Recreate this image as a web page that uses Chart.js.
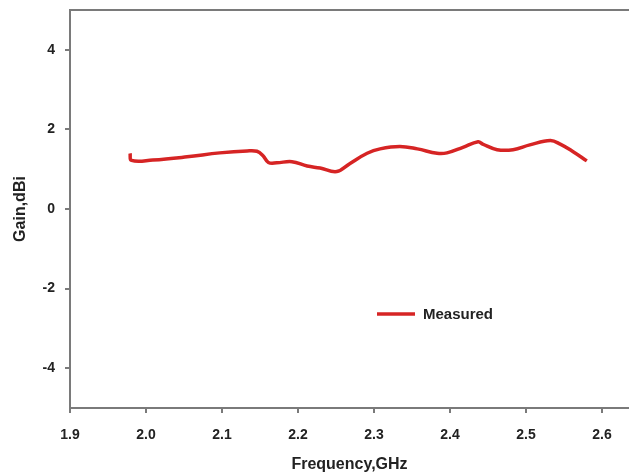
<!DOCTYPE html>
<html>
<head>
<meta charset="utf-8">
<script src="https://cdn.jsdelivr.net/npm/chart.js@4/dist/chart.umd.min.js"></script>
<style>
  html, body { margin: 0; padding: 0; background: #fff; }
  #wrap { width: 629px; height: 475px; }
</style>
</head>
<body>
<div id="wrap"><canvas id="myChart" width="629" height="475"></canvas></div>
<script>
// datos
const freq = [1.979, 1.981, 2.009, 2.054, 2.097, 2.133, 2.146, 2.154, 2.161, 2.172,
  2.192, 2.212, 2.229, 2.251, 2.268, 2.291, 2.308, 2.334, 2.357, 2.383,
  2.396, 2.417, 2.437, 2.443, 2.462, 2.483, 2.505, 2.532, 2.545, 2.562, 2.580];
const gain = [1.40, 1.22, 1.23, 1.31, 1.41, 1.46, 1.45, 1.34, 1.17, 1.16,
  1.19, 1.08, 1.03, 0.94, 1.14, 1.40, 1.51, 1.57, 1.51, 1.40,
  1.41, 1.55, 1.69, 1.63, 1.49, 1.49, 1.61, 1.72, 1.63, 1.44, 1.21];
const xTicks = [1.9, 2.0, 2.1, 2.2, 2.3, 2.4, 2.5, 2.6];
const yTicks = [-4, -2, 0, 2, 4];
const serieLabel = 'Measured';

const axisColor = '#7a7a7a';
const textColor = '#222';
const lineColor = '#d62424';
const fontFamily = 'Liberation Sans, Arial, sans-serif';
const tickFont = { family: fontFamily, size: 14, weight: 'bold' };
const titleFont = { family: fontFamily, size: 16, weight: 'bold' };

// leyenda dibujada a mano dentro del area
const legendPlugin = {
  id: 'legendInside',
  afterDraw(chart) {
    const ctx = chart.ctx;
    const a = chart.chartArea;
    const x0 = a.left + 307, y0 = a.top + 304;
    ctx.save();
    ctx.strokeStyle = lineColor;
    ctx.lineWidth = 3.5;
    ctx.beginPath();
    ctx.moveTo(x0, y0);
    ctx.lineTo(x0 + 38, y0);
    ctx.stroke();
    ctx.fillStyle = textColor;
    ctx.font = 'bold 15px ' + fontFamily;
    ctx.textBaseline = 'middle';
    ctx.fillText(serieLabel, x0 + 46, y0 + 1);
    ctx.restore();
  }
};

const points = freq.map((f, i) => ({ x: f, y: gain[i] }));

const ctx = document.getElementById('myChart').getContext('2d');
const chart = new Chart(ctx, {
  type: 'line',
  data: {
    datasets: [{
      label: serieLabel,
      data: points,
      borderColor: lineColor,
      borderWidth: 3.5,
      pointRadius: 0,
      tension: 0.4,
      fill: false
    }]
  },
  options: {
    responsive: false,
    animation: false,
    layout: { padding: { top: 10, right: 0, left: 0, bottom: 0 } },
    plugins: { legend: { display: false }, tooltip: { enabled: false } },
    scales: {
      x: {
        type: 'linear',
        position: 'bottom',
        min: 1.9,
        max: 2.6355,
        afterBuildTicks: s => { s.ticks = xTicks.map(v => ({ value: v })); },
        afterFit: s => { s.height = 67; s.paddingLeft = 0; s.paddingRight = 0; },
        ticks: {
          font: tickFont,
          color: textColor,
          padding: 14,
          maxRotation: 0,
          callback: v => v.toFixed(1)
        },
        grid: { drawOnChartArea: false, tickLength: 5, color: axisColor, lineWidth: 2 },
        border: { color: axisColor, width: 2 },
        title: {
          display: true,
          text: 'Frequency,GHz',
          font: titleFont,
          color: textColor,
          padding: { top: 0, bottom: 1 }
        }
      },
      x2: {
        type: 'linear',
        position: 'top',
        min: 1.9,
        max: 2.6355,
        ticks: { display: false },
        grid: { display: false },
        afterFit: s => { s.height = 0; s.paddingLeft = 0; s.paddingRight = 0; },
        border: { color: axisColor, width: 2 }
      },
      y: {
        min: -5,
        max: 5,
        afterBuildTicks: s => { s.ticks = yTicks.map(v => ({ value: v })); },
        afterFit: s => { s.width = 70; s.paddingTop = 0; s.paddingBottom = 0; },
        ticks: { font: tickFont, color: textColor, padding: 10 },
        grid: { drawOnChartArea: false, tickLength: 5, color: axisColor, lineWidth: 2 },
        border: { color: axisColor, width: 2 },
        title: {
          display: true,
          text: 'Gain,dBi',
          font: titleFont,
          color: textColor,
          padding: { top: 11, bottom: 0 }
        }
      }
    }
  },
  plugins: [legendPlugin]
});
</script>
</body>
</html>
